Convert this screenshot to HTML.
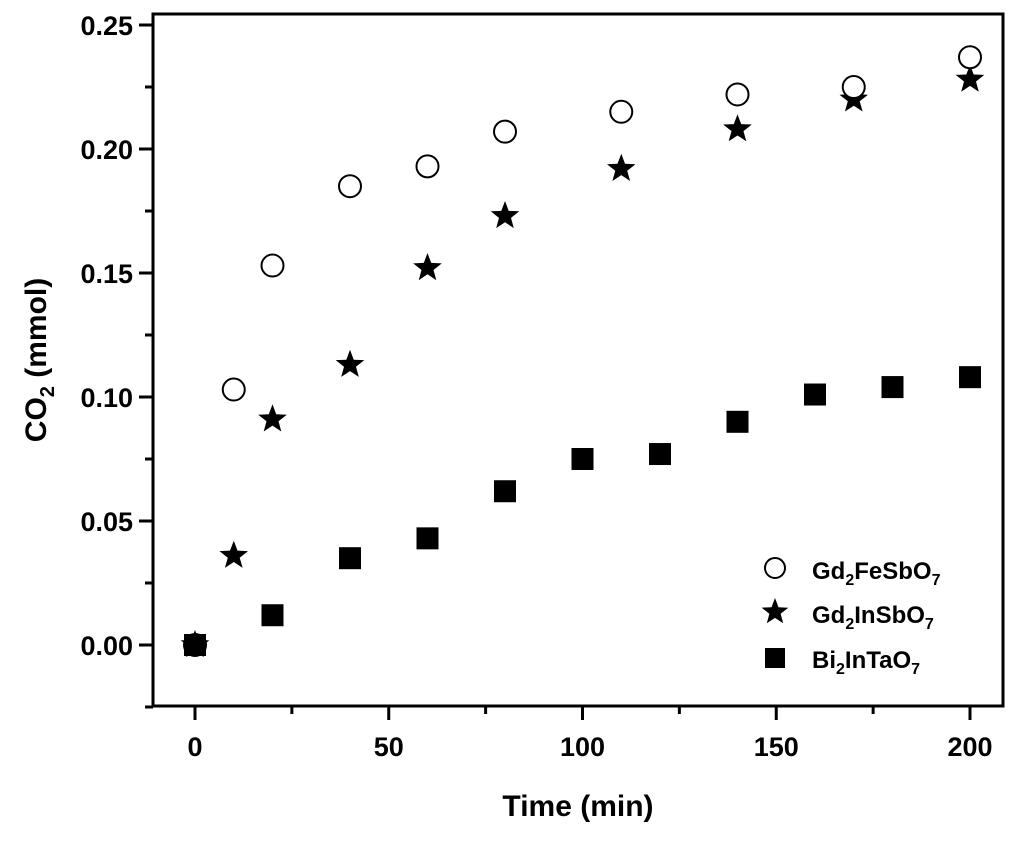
<!DOCTYPE html>
<html><head><meta charset="utf-8"><style>
body{margin:0;background:#fff}
text{font-family:"Liberation Sans",Arial,sans-serif;font-weight:bold;fill:#000}
</style></head><body>
<svg id="chart" width="1024" height="842" xmlns="http://www.w3.org/2000/svg">
<rect x="153" y="14" width="850" height="692" fill="none" stroke="#000" stroke-width="3"/>
<g id="axes"></g><g id="marks"></g>
<text x="578" y="816" font-size="30" text-anchor="middle">Time (min)</text>
<text transform="translate(46,360) rotate(-90)" font-size="30" text-anchor="middle">CO<tspan font-size="20" dy="8">2</tspan><tspan dy="-8"> (mmol)</tspan></text>
<g>
<circle cx="775" cy="568" r="10" fill="#fff" stroke="#000" stroke-width="2"/>
<text x="812" y="579" font-size="24">Gd<tspan font-size="16" dy="6">2</tspan><tspan dy="-6">FeSbO</tspan><tspan font-size="16" dy="6">7</tspan></text>
<path id="lgstar" fill="#000"/>
<text x="812" y="623" font-size="24">Gd<tspan font-size="16" dy="6">2</tspan><tspan dy="-6">InSbO</tspan><tspan font-size="16" dy="6">7</tspan></text>
<rect x="765" y="648" width="20" height="20" fill="#000"/>
<text x="812" y="668" font-size="24">Bi<tspan font-size="16" dy="6">2</tspan><tspan dy="-6">InTaO</tspan><tspan font-size="16" dy="6">7</tspan></text>
</g>
</svg>
<script>
const feX=[0,10,20,40,60,80,110,140,170,200];
const feY=[0,0.103,0.153,0.185,0.193,0.207,0.215,0.222,0.225,0.237];
const inX=[0,10,20,40,60,80,110,140,170,200];
const inY=[0,0.036,0.091,0.113,0.152,0.173,0.192,0.208,0.220,0.228];
const biX=[0,20,40,60,80,100,120,140,160,180,200];
const biY=[0,0.012,0.035,0.043,0.062,0.075,0.077,0.090,0.101,0.104,0.108];
const xTicks=[0,50,100,150,200];
const yTicks=[0,0.05,0.10,0.15,0.20,0.25];
const NS="http://www.w3.org/2000/svg";
const X=v=>195+v*3.875, Y=v=>645-v*2480;
const ax=document.getElementById('axes'), mk=document.getElementById('marks');
function el(t,a,p){const e=document.createElementNS(NS,t);for(const k in a)e.setAttribute(k,a[k]);p.appendChild(e);return e;}
function starPath(cx,cy,R){let d='';for(let i=0;i<10;i++){const r=i%2?R*0.42:R;const a=-Math.PI/2+i*Math.PI/5;d+=(i?'L':'M')+(cx+r*Math.cos(a)).toFixed(1)+','+(cy+r*Math.sin(a)).toFixed(1);}return d+'Z';}
document.getElementById('lgstar').setAttribute('d',starPath(775,612,14));
xTicks.forEach(t=>{const l=el('line',{x1:X(t),x2:X(t),y1:706,y2:720,stroke:'#000','stroke-width':3},ax);

const m=el('line',{x1:X(t+25),x2:X(t+25),y1:706,y2:714,stroke:'#000','stroke-width':3},ax);

const tx=el('text',{x:X(t),y:756,'font-size':27,'text-anchor':'middle'},ax);tx.textContent=t;
});
yTicks.forEach(t=>{const l=el('line',{x1:139,x2:153,y1:Y(t),y2:Y(t),stroke:'#000','stroke-width':3},ax);

const m=el('line',{x1:145,x2:153,y1:Y(t-0.025),y2:Y(t-0.025),stroke:'#000','stroke-width':3},ax);

const tx=el('text',{x:133,y:Y(t)+10,'font-size':27,'text-anchor':'end'},ax);tx.textContent=t.toFixed(2);
});
biX.forEach((x,i)=>{const r=el('rect',{x:X(x)-11,y:Y(biY[i])-11,width:22,height:22,fill:'#000'},mk);
});
inX.forEach((x,i)=>{const p=el('path',{d:starPath(X(x),Y(inY[i]),15),fill:'#000'},mk);
});
feX.forEach((x,i)=>{const c=el('circle',{cx:X(x),cy:Y(feY[i]),r:11,fill:i?'#fff':'#000',stroke:'#000','stroke-width':2},mk);
});
</script>
</body></html>
